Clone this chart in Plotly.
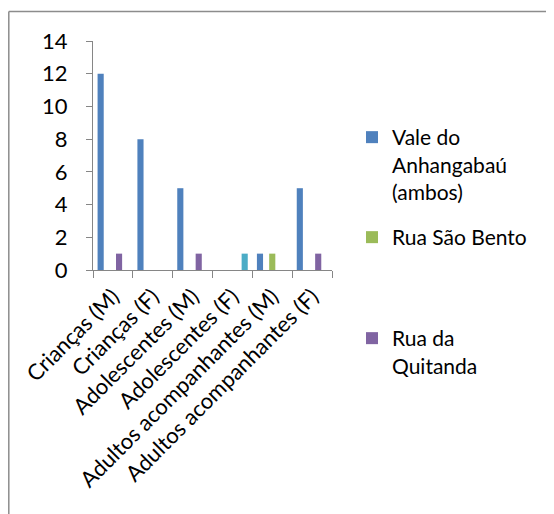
import plotly.graph_objects as go

categories = ["Crianças (M)", "Crianças (F)", "Adolescentes (M)", "Adolescentes (F)",
              "Adultos acompanhantes (M)", "Adultos acompanhantes (F)"]
vale = [12, 8, 5, 0, 1, 5]
serie2 = [0, 0, 0, 0, 0, 0]
sao_bento = [0, 0, 0, 0, 1, 0]
quitanda = [1, 0, 1, 0, 0, 1]
serie5 = [0, 0, 0, 1, 0, 0]
y_ticks = [0, 2, 4, 6, 8, 10, 12, 14]

FONT = "Lato"
AXIS = "#868686"
W, H = 546, 506          # page body has an 8px margin
PL, PR, PT, PB = 85, 324, 33, 262   # plot area in figure px


def px_x(p):
    return (p - PL) / (PR - PL)


def px_y(p):
    return (PB - p) / (PB - PT)


fig = go.Figure()
fig.add_trace(go.Bar(x=categories, y=vale, name="Vale do<br>Anhangabaú<br>(ambos)",
                     marker=dict(color="#4F81BD", line=dict(width=0)), legend="legend"))
fig.add_trace(go.Bar(x=categories, y=serie2, name="", marker=dict(color="#C0504D", line=dict(width=0)),
                     showlegend=False))
fig.add_trace(go.Bar(x=categories, y=sao_bento, name="Rua São Bento",
                     marker=dict(color="#9BBB59", line=dict(width=0)), legend="legend2"))
fig.add_trace(go.Bar(x=categories, y=quitanda, name="Rua da<br>Quitanda",
                     marker=dict(color="#8064A2", line=dict(width=0)), legend="legend3"))
fig.add_trace(go.Bar(x=categories, y=serie5, name="", marker=dict(color="#4BACC6", line=dict(width=0)),
                     showlegend=False))

legend_common = dict(xref="container", yref="container", xanchor="left", yanchor="top",
                     font=dict(family=FONT, size=21, color="#000000"), bgcolor="rgba(0,0,0,0)",
                     borderwidth=0, valign="top", itemclick=False, itemdoubleclick=False)
LX = 344 / W

border = dict(color="#8C8C8C", width=1.5)
fig.update_layout(
    width=W, height=H,
    margin=dict(l=PL, r=W - PR, t=PT, b=H - PB),
    paper_bgcolor="white", plot_bgcolor="white",
    barmode="group", bargap=0.23, bargroupgap=0,
    font=dict(family=FONT, color="#000000"),
    legend=dict(**legend_common, x=LX, y=1 - 109 / H),
    legend2=dict(**legend_common, x=LX, y=1 - 209 / H),
    legend3=dict(**legend_common, x=LX, y=1 - 310 / H),
    xaxis=dict(type="category", showline=True, linecolor=AXIS, linewidth=1,
               ticks="outside", tickson="boundaries", ticklen=7, tickcolor=AXIS,
               tickangle=-45, tickfont=dict(family=FONT, size=22, color="#000000"),
               ticklabelstandoff=4, showgrid=False, zeroline=False),
    yaxis=dict(range=[0, 14], tickvals=y_ticks, showline=True, linecolor=AXIS, linewidth=1,
               ticks="outside", ticklen=6, tickcolor=AXIS, ticklabelstandoff=14,
               tickfont=dict(family=FONT, size=22, color="#000000"),
               showgrid=False, zeroline=False),
    shapes=[
        dict(type="line", xref="paper", yref="paper",
             x0=px_x(0.8), x1=px_x(W), y0=px_y(3.5), y1=px_y(3.5), line=border),
        dict(type="line", xref="paper", yref="paper",
             x0=px_x(0.8), x1=px_x(0.8), y0=px_y(3.5), y1=px_y(H), line=border),
    ],
)

fig.write_html("out.html")
